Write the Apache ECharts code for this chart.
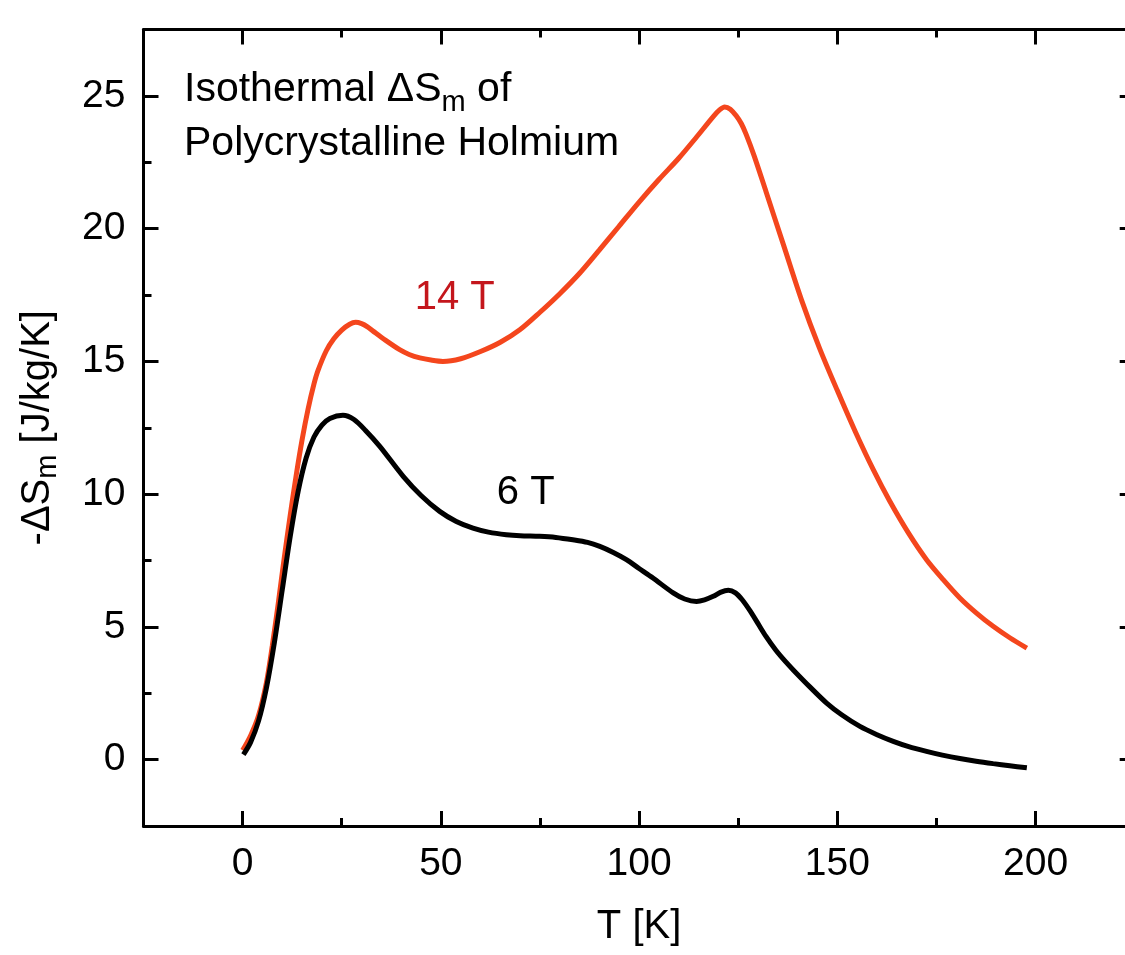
<!DOCTYPE html>
<html>
<head>
<meta charset="utf-8">
<script src="https://cdn.jsdelivr.net/npm/echarts@6/dist/echarts.min.js"></script>
<style>
  html, body { margin: 0; padding: 0; background: #ffffff; }
  #chart { width: 1125px; height: 955px; }
</style>
</head>
<body>
<div id="chart"></div>
<script>
// Isothermal magnetic entropy change of polycrystalline holmium, two applied fields.
const T14 = [0, 2, 4, 6, 7.5, 9, 10.5, 12, 13.5, 15, 16.5, 18, 19, 21.1, 23, 25, 27, 28.5, 30, 31.5,
  33, 36, 39.6, 42, 44.7, 47.5, 50.5, 55, 60, 65, 70, 75, 80, 85, 90, 95, 100, 105, 110, 114.5,
  118.7, 120.3, 121.6, 123, 124.5, 125.8, 127, 129, 132, 136.5, 141, 145.5, 150, 154.6, 159.1, 163.2,
  168, 172.5, 176.7, 180.9, 185.1, 189.3, 193.5, 197.8];
const S14 = [0.35, 0.9, 1.65, 2.9, 4.3, 5.9, 7.6, 9.2, 10.7, 12.05, 13.2, 14.15, 14.65, 15.4, 15.85, 16.18, 16.4, 16.47, 16.42, 16.3,
  16.13, 15.8, 15.44, 15.26, 15.13, 15.05, 15.0, 15.1, 15.37, 15.72, 16.2, 16.85, 17.55, 18.32, 19.2, 20.1, 21.0, 21.85, 22.65, 23.45,
  24.22, 24.47, 24.58, 24.5, 24.25, 23.95, 23.55, 22.75, 21.4, 19.35, 17.3, 15.5, 13.9, 12.33, 10.91, 9.74,
  8.52, 7.53, 6.78, 6.09, 5.52, 5.02, 4.59, 4.2];

const T6 = [0.2, 2, 4, 6, 8, 10, 12, 14, 16, 18, 20, 22, 25.3, 28, 31, 34.6, 40.5, 45, 49.7, 53.9,
  58.1, 62, 66.5, 70, 74.9, 79, 83.3, 87, 90.1, 93.5, 96.8, 100, 103.5, 108.6, 111.5, 114.5, 116.5, 118.7, 120.5, 122.5,
  124.3, 126, 128, 130, 132, 134.5, 137, 139, 143, 147.3, 151, 155.7, 160, 164.1, 168, 172.5, 176.5, 180.9,
  185, 189.3, 193.5, 197.8];
const S6 = [0.19, 0.65, 1.45, 2.7, 4.4, 6.4, 8.4, 10.1, 11.35, 12.15, 12.6, 12.85, 12.97, 12.82, 12.4, 11.8, 10.67, 9.95, 9.35, 8.97,
  8.72, 8.57, 8.47, 8.43, 8.41, 8.37, 8.28, 8.18, 8.03, 7.8, 7.53, 7.2, 6.84, 6.28, 6.05, 5.96, 6.02, 6.15, 6.3, 6.38,
  6.28, 6.02, 5.6, 5.12, 4.64, 4.12, 3.68, 3.36, 2.75, 2.13, 1.7, 1.25, 0.94, 0.69, 0.49, 0.31, 0.17, 0.04,
  -0.06, -0.15, -0.23, -0.31];

// Axis ranges and tick positions
const xRange = [-25, 225];
const yRange = [-2.5, 27.5];
const xMajor = [0, 50, 100, 150, 200];
const xMinor = [-25, 25, 75, 125, 175, 225];
const yMajor = [0, 5, 10, 15, 20, 25];
const yMinor = [-2.5, 2.5, 7.5, 12.5, 17.5, 22.5, 27.5];

// Curve labels: [text, T, value, colour]
const curveLabels = [
  ['14 T', 53.5, 17.4, '#c4161c'],
  ['6 T', 71.4, 10.05, '#000000']
];

const FONT = '"Liberation Sans", Arial, Helvetica, sans-serif';
const INK = '#000000';

function xAxisDef(position, ticks, len, withLine, withLabels) {
  return {
    type: 'value', gridIndex: 0, position: position,
    min: xRange[0], max: xRange[1],
    axisLine: { show: withLine, onZero: false, lineStyle: { color: INK, width: 3 } },
    axisTick: { show: true, inside: true, length: len, customValues: ticks, lineStyle: { color: INK, width: 3 } },
    axisLabel: withLabels
      ? { show: true, customValues: xMajor, margin: 19, color: INK, fontSize: 39, fontFamily: FONT }
      : { show: false },
    splitLine: { show: false },
    name: withLabels ? 'T [K]' : '',
    nameLocation: 'middle', nameGap: 81,
    nameTextStyle: { color: INK, fontSize: 40, fontFamily: FONT }
  };
}

function yAxisDef(position, ticks, len, withLine, withLabels) {
  return {
    type: 'value', gridIndex: 0, position: position,
    min: yRange[0], max: yRange[1],
    axisLine: { show: withLine, onZero: false, lineStyle: { color: INK, width: 3 } },
    axisTick: { show: true, inside: true, length: len, customValues: ticks, lineStyle: { color: INK, width: 3 } },
    axisLabel: withLabels
      ? { show: true, customValues: yMajor, margin: 18, color: INK, fontSize: 39, fontFamily: FONT }
      : { show: false },
    splitLine: { show: false },
    name: withLabels ? '{a|-ΔS}{s|m}{a| [J/kg/K]}' : '',
    nameLocation: 'middle', nameGap: 82,
    nameTextStyle: {
      color: INK, fontFamily: FONT,
      rich: {
        a: { fontSize: 40, fontFamily: FONT, color: INK, lineHeight: 48 },
        s: { fontSize: 29, fontFamily: FONT, color: INK, lineHeight: 30, padding: [20, 0, 0, 0] }
      }
    }
  };
}

const chart = echarts.init(document.getElementById('chart'), null, { renderer: 'canvas' });

const option = {
  backgroundColor: '#ffffff',
  animation: false,
  title: {
    left: 179, top: 58,
    text: '{a|Isothermal ΔS}{s|m}{a| of}\n{a|Polycrystalline Holmium}',
    textStyle: {
      fontWeight: 'normal',
      rich: {
        a: { fontSize: 41, fontFamily: FONT, fontWeight: 'normal', color: INK, lineHeight: 54 },
        s: { fontSize: 29, fontFamily: FONT, fontWeight: 'normal', color: INK, lineHeight: 30, padding: [26, 0, 0, 0] }
      }
    }
  },
  grid: {
    left: 143.5, top: 29.5, width: 991.2, height: 796.5,
    containLabel: false, outerBoundsMode: 'none'
  },
  xAxis: [
    xAxisDef('bottom', xMajor, 15, true, true),
    xAxisDef('bottom', xMinor, 8, false, false),
    xAxisDef('top', xMajor, 15, true, false),
    xAxisDef('top', xMinor, 8, false, false)
  ],
  yAxis: [
    yAxisDef('left', yMajor, 15, true, true),
    yAxisDef('left', yMinor, 8, false, false),
    yAxisDef('right', yMajor, 15, true, false),
    yAxisDef('right', yMinor, 8, false, false)
  ],
  series: [
    {
      name: '14 T', type: 'line', xAxisIndex: 0, yAxisIndex: 0,
      data: T14.map((t, i) => [t, S14[i]]),
      showSymbol: false, smooth: 0.3,
      lineStyle: { color: '#f4461d', width: 5 }
    },
    {
      name: '6 T', type: 'line', xAxisIndex: 0, yAxisIndex: 0,
      data: T6.map((t, i) => [t, S6[i]]),
      showSymbol: false, smooth: 0.3,
      lineStyle: { color: '#000000', width: 5 }
    }
  ]
};

chart.setOption(option);

// Place the curve labels at their data positions
const graphics = curveLabels.map(([text, t, v, color]) => {
  const p = chart.convertToPixel({ xAxisIndex: 0, yAxisIndex: 0 }, [t, v]);
  return {
    type: 'text', x: p[0], y: p[1],
    style: { text: text, fill: color, fontSize: 40, fontFamily: FONT, align: 'center', verticalAlign: 'middle' }
  };
});
chart.setOption({ graphic: graphics });
</script>
</body>
</html>
